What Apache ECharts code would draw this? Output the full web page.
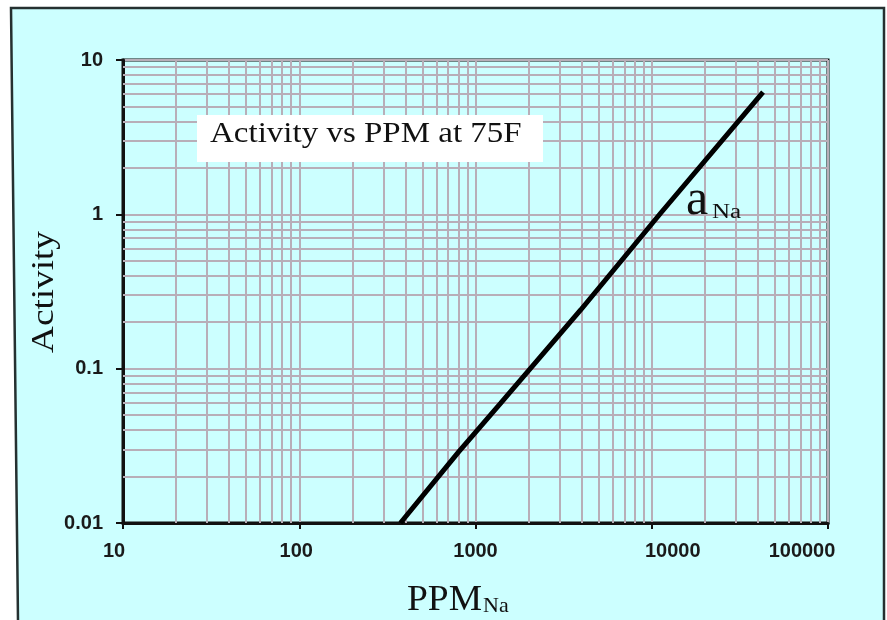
<!DOCTYPE html>
<html><head><meta charset="utf-8">
<script src="https://cdn.jsdelivr.net/npm/echarts@6/dist/echarts.min.js"></script>
<style>html,body{margin:0;padding:0;background:#fff}#c{width:887px;height:620px}</style>
</head><body><div id="c"></div>
<script>
// Data
const ppm = [375, 800, 1390, 3950, 11250, 42800];
const activity = [0.01, 0.0288, 0.0598, 0.24, 1.02, 6.2];
// Axis tick labels
const xTickLabels = ['10', '100', '1000', '10000', '100000'];
const yTickLabels = ['0.01', '0.1', '1', '10'];
// Minor grid positions (log paper)
const xMinorGrid = [20,30,40,50,60,70,80,90, 200,300,400,500,600,700,800,900,
  2000,3000,4000,5000,6000,7000,8000,9000, 20000,30000,40000,50000,60000,70000,80000,90000];
const yMinorGrid = [0.02,0.03,0.04,0.05,0.06,0.07,0.08,0.09, 0.2,0.3,0.4,0.5,0.6,0.7,0.8,0.9,
  2,3,4,5,6,7,8,9];

const gridColor = '#b8aeb8';
const serif = 'Liberation Serif';
const sans = 'Liberation Sans';

const chart = echarts.init(document.getElementById('c'));

const xRich = {
  x0: {padding: [0, 18, 0, 0]},
  x1: {padding: [0, 6, 0, 0]},
  x2: {padding: [0, 0, 0, 0]},
  x3: {padding: [0, 0, 0, 42]},
  x4: {padding: [0, 52, 0, 0]}
};
Object.keys(xRich).forEach(k => Object.assign(xRich[k], {fontSize: 20, fontWeight: 'bold', fontFamily: sans, color: '#1a1a1a'}));

function txt(o) {
  return Object.assign({type: 'text', z: 101, silent: true}, o);
}

chart.setOption({
  animation: false,
  backgroundColor: '#ccffff',
  grid: {left: 123, right: 59, top: 60, bottom: 97, show: true, borderColor: '#111', borderWidth: 3, backgroundColor: 'transparent'},
  xAxis: {
    type: 'log', logBase: 10, min: 10, max: 100000,
    axisLine: {lineStyle: {color: '#111', width: 3}},
    axisTick: {show: true, length: 6, lineStyle: {color: '#111', width: 2}},
    minorTick: {show: false},
    splitLine: {show: true, lineStyle: {color: gridColor, width: 2}},
    axisLabel: {
      margin: 18, fontSize: 20, fontWeight: 'bold', fontFamily: sans, color: '#1a1a1a',
      formatter: function (v) {
        const s = String(Math.round(v));
        const i = xTickLabels.indexOf(s);
        return i >= 0 ? '{x' + i + '|' + xTickLabels[i] + '}' : '';
      },
      rich: xRich
    }
  },
  yAxis: {
    type: 'log', logBase: 10, min: 0.01, max: 10,
    axisLine: {lineStyle: {color: '#111', width: 3}},
    axisTick: {show: true, length: 7, lineStyle: {color: '#111', width: 2}},
    splitLine: {show: true, lineStyle: {color: gridColor, width: 2}},
    axisLabel: {
      margin: 20, fontSize: 20, fontWeight: 'bold', fontFamily: sans, color: '#1a1a1a',
      formatter: function (v) {
        const s = v >= 1 ? String(Math.round(v)) : Number(v.toPrecision(1)).toString();
        return yTickLabels.indexOf(s) >= 0 ? s : '';
      }
    }
  },
  series: [
    {
      type: 'line', data: [], z: 1, silent: true,
      markLine: {
        silent: true, symbol: ['none', 'none'], label: {show: false},
        lineStyle: {color: gridColor, width: 2, type: 'solid'},
        emphasis: {disabled: true},
        data: xMinorGrid.map(v => ({xAxis: v})).concat(yMinorGrid.map(v => ({yAxis: v})))
      }
    },
    {
      type: 'line', z: 5, symbol: 'none', smooth: false,
      data: ppm.map((p, i) => [p, activity[i]]),
      lineStyle: {color: '#000', width: 5}
    }
  ],
  graphic: [
    // white margins outside the outer frame
    {type: 'polygon', z: 100, silent: true, shape: {points: [[0,0],[887,0],[887,7],[11,7],[18,620],[0,620]]}, style: {fill: '#fff'}},
    {type: 'rect', z: 100, silent: true, shape: {x: 885, y: 0, width: 2, height: 620}, style: {fill: '#fff'}},
    {type: 'polyline', z: 101, silent: true, shape: {points: [[18,620],[11,8],[884,8],[884,620]]}, style: {stroke: '#253030', lineWidth: 2.5, fill: null}},
    // title box
    {type: 'rect', z: 100, silent: true, shape: {x: 197, y: 115, width: 346, height: 47}, style: {fill: '#ffffff'}},
    txt({x: 210, y: 134, scaleX: 1.1,
      style: {text: 'Activity vs PPM at 75F', fontSize: 30, fontFamily: serif, fill: '#111', align: 'left', verticalAlign: 'middle'}}),
    // y axis name
    txt({x: 45, y: 292, rotation: Math.PI / 2, scaleX: 1.2,
      style: {text: 'Activity', fontSize: 31, fontFamily: serif, fill: '#111', align: 'center', verticalAlign: 'middle'}}),
    // x axis name
    txt({x: 407, y: 601, scaleX: 1.07,
      style: {text: 'PPM', fontSize: 35, fontFamily: serif, fill: '#111', align: 'left', verticalAlign: 'middle'}}),
    txt({x: 483, y: 606,
      style: {text: 'Na', fontSize: 22, fontFamily: serif, fill: '#111', align: 'left', verticalAlign: 'middle'}}),
    // series label
    txt({x: 686, y: 201,
      style: {text: 'a', fontSize: 50, fontFamily: serif, fill: '#111', align: 'left', verticalAlign: 'middle'}}),
    txt({x: 712, y: 213, scaleX: 1.25,
      style: {text: 'Na', fontSize: 20, fontFamily: serif, fill: '#111', align: 'left', verticalAlign: 'middle'}})
  ]
});
</script></body></html>
